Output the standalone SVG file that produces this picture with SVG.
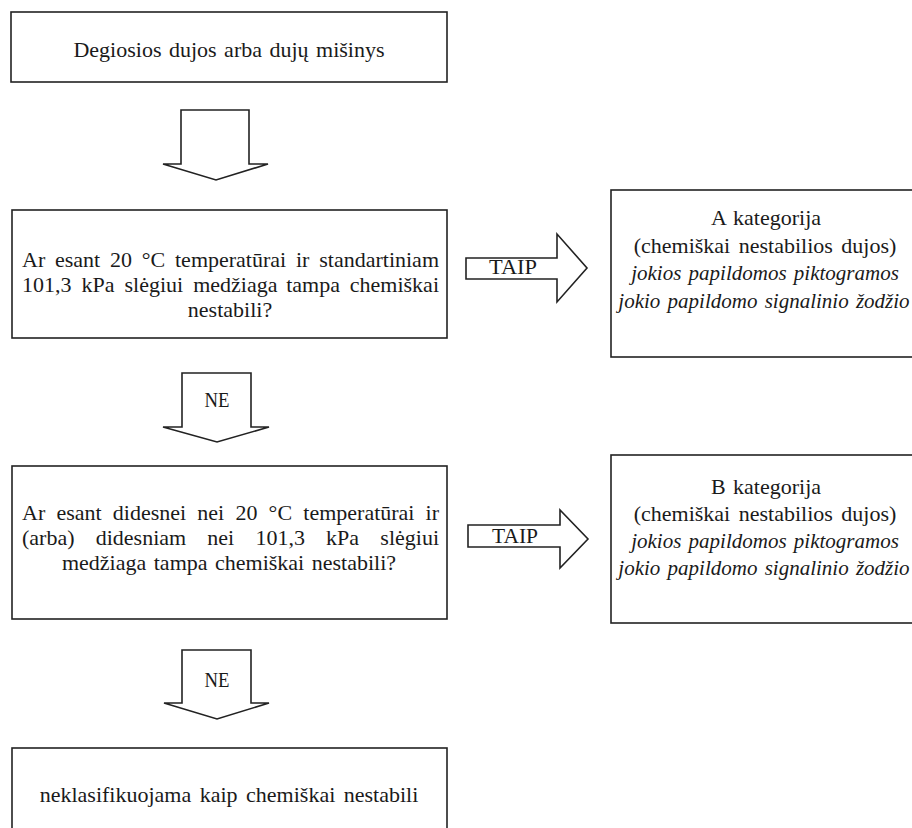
<svg xmlns="http://www.w3.org/2000/svg" width="912" height="828" viewBox="0 0 912 828">
  <style>
    .box { fill: #fff; stroke: #222; stroke-width: 1.6; }
    .arrow { fill: #fff; stroke: #222; stroke-width: 1.6; stroke-linejoin: miter; }
    text { font-family: "Liberation Serif", "DejaVu Serif", serif; font-size: 22px; fill: #1a1a1a; }
    .c { text-anchor: middle; }
    .e { text-anchor: end; }
    .i { font-style: italic; font-size: 21px; }
    .lbl { font-size: 20px; }
  </style>
  <rect width="912" height="828" fill="#fff"/>

  <!-- block arrows between steps -->
  <g id="connectors">
    <polygon class="arrow" points="181,110 249,110 249,164 268,164 216,180 163,164 181,164"/>
    <polygon class="arrow" points="466,258 557,258 557,234 587,268 557,302 557,279 466,279"/>
    <text x="513" y="274" class="c lbl" textLength="48" lengthAdjust="spacingAndGlyphs">TAIP</text>
    <polygon class="arrow" points="182,373 251,373 251,427 269,427 217,442 163,427 182,427"/>
    <text x="217" y="407" class="c lbl" textLength="25" lengthAdjust="spacingAndGlyphs">NE</text>
    <polygon class="arrow" points="468,525 560,525 560,510 588,539 560,568 560,547 468,547"/>
    <text x="515" y="543" class="c lbl" textLength="46" lengthAdjust="spacingAndGlyphs">TAIP</text>
    <polygon class="arrow" points="182,650 251,650 251,703 269,703 217,719 164,703 182,703"/>
    <text x="217" y="687" class="c lbl" textLength="25" lengthAdjust="spacingAndGlyphs">NE</text>
  </g>

  <g id="start">
    <rect class="box" x="11" y="12" width="436" height="70"/>
    <text x="229" y="57" class="c" word-spacing="2">Degiosios dujos arba dujų mišinys</text>
  </g>

  <g id="question1">
    <rect class="box" x="12" y="210" width="435" height="128"/>
    <text y="267"><tspan x="22">Ar</tspan><tspan x="55">esant</tspan><tspan x="110">20</tspan><tspan x="141.8">°C</tspan><tspan x="175">temperatūrai</tspan><tspan x="296">ir</tspan></text>
    <text x="439" y="267" class="e">standartiniam</text>
    <text y="292"><tspan x="22">101,3</tspan><tspan x="81.5">kPa</tspan><tspan x="124.5">slėgiui</tspan><tspan x="193.2">medžiaga</tspan><tspan x="286.2">tampa</tspan></text>
    <text x="439" y="292" class="e">chemiškai</text>
    <text x="230" y="317" class="c">nestabili?</text>
  </g>

  <g id="categoryA">
    <rect class="box" x="611" y="190" width="310" height="167"/>
    <text x="766" y="225" class="c" word-spacing="2">A kategorija</text>
    <text x="765" y="253" class="c" word-spacing="3">(chemiškai nestabilios dujos)</text>
    <text x="765" y="280" class="c i" word-spacing="2">jokios papildomos piktogramos</text>
    <text x="764" y="308" class="c i" word-spacing="2">jokio papildomo signalinio žodžio</text>
  </g>

  <g id="question2">
    <rect class="box" x="12" y="466" width="435" height="153"/>
    <text y="520"><tspan x="22">Ar</tspan><tspan x="56.4">esant</tspan><tspan x="112.8">didesnei</tspan><tspan x="197.3">nei</tspan><tspan x="235.4">20</tspan><tspan x="268.6">°C</tspan><tspan x="303.3">temperatūrai</tspan></text>
    <text x="439" y="520" class="e">ir</text>
    <text y="545"><tspan x="22">(arba)</tspan><tspan x="95.7">didesniam</tspan><tspan x="207.3">nei</tspan><tspan x="255.4">101,3</tspan><tspan x="326.1">kPa</tspan></text>
    <text x="439" y="545" class="e">slėgiui</text>
    <text x="229" y="570" class="c" word-spacing="2">medžiaga tampa chemiškai nestabili?</text>
  </g>

  <g id="categoryB">
    <rect class="box" x="611" y="455" width="310" height="168"/>
    <text x="766" y="494" class="c" word-spacing="2">B kategorija</text>
    <text x="765" y="521" class="c" word-spacing="3">(chemiškai nestabilios dujos)</text>
    <text x="765" y="548" class="c i" word-spacing="2">jokios papildomos piktogramos</text>
    <text x="764" y="575" class="c i" word-spacing="2">jokio papildomo signalinio žodžio</text>
  </g>

  <g id="notClassified">
    <rect class="box" x="12" y="748" width="435" height="100"/>
    <text x="229" y="802" class="c" word-spacing="3">neklasifikuojama kaip chemiškai nestabili</text>
  </g>
</svg>
